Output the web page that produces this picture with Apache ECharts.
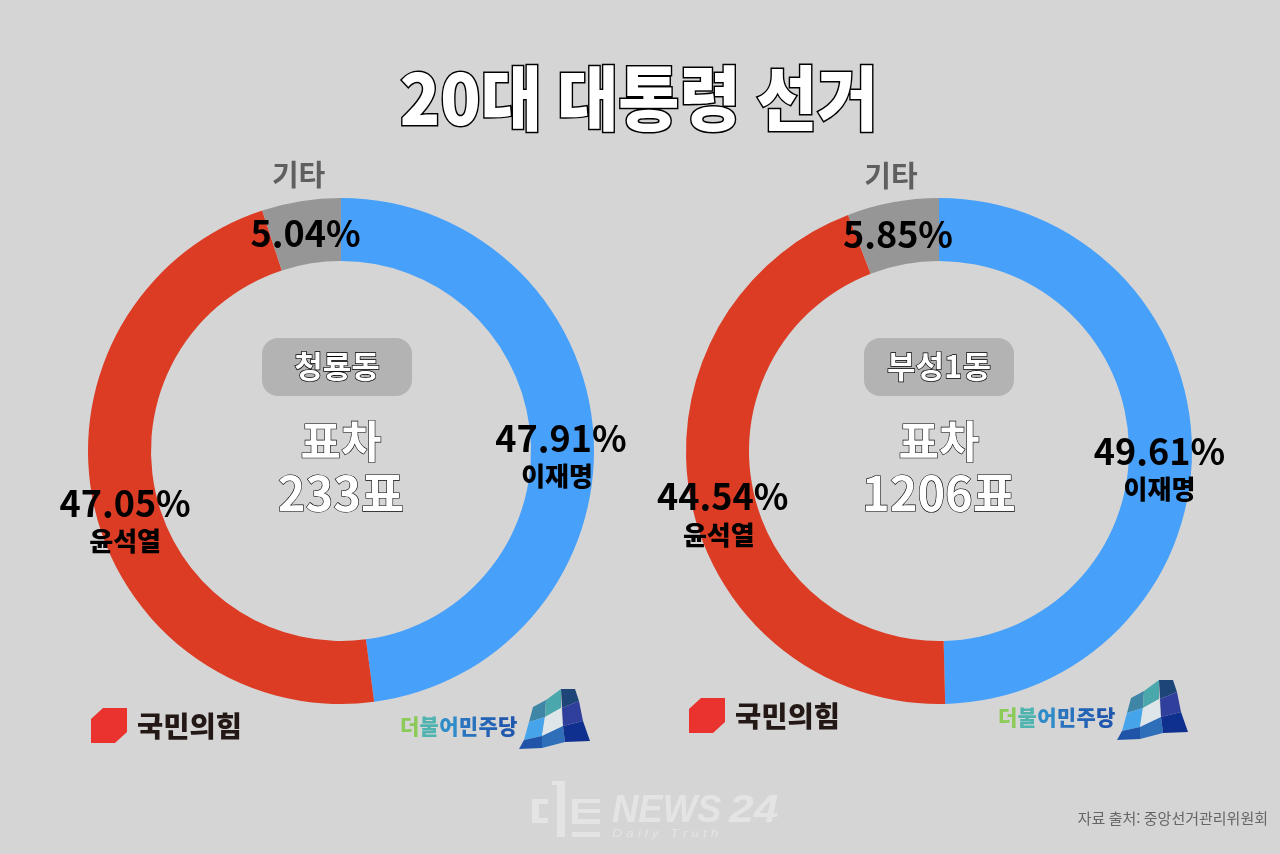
<!DOCTYPE html>
<html lang="ko">
<head>
<meta charset="utf-8">
<title>20대 대통령 선거</title>
<style>
  html, body { margin: 0; padding: 0; background: #d5d5d5; }
  #chart { width: 1280px; height: 854px; }
</style>
<script src="https://cdn.jsdelivr.net/npm/echarts@6/dist/echarts.min.js"></script>
</head>
<body>
<div id="chart"></div>
<script>
// 득표율 데이터
const candidates = ["이재명", "윤석열", "기타"];
const cheongnyong = [47.91, 47.05, 5.04];
const buseong = [49.61, 44.54, 5.85];
const sliceColors = ["#47a0fa", "#dc3b24", "#969696"];
const districts = ["청룡동", "부성1동"];
const voteGaps = ["233표", "1206표"];

const FONT = '"Noto Sans CJK KR"';

// 라벨 위치 보정: 슬라이스별 [x, y], 이름 줄 왼쪽 이동
function buildPie(values, cx, nudges, nameShifts) {
  return {
    type: "pie",
    center: [cx, 451],
    radius: [190, 253],
    startAngle: 90,
    silent: true,
    animation: false,
    avoidLabelOverlap: false,
    labelLine: { show: false },
    data: candidates.map((name, i) => ({
      name,
      value: values[i],
      itemStyle: { color: sliceColors[i] },
      label: {
        show: true,
        position: "inside",
        offset: nudges[i],
        formatter: i === 2
          ? `{other|${name}}\n{pct|${values[i].toFixed(2)}%}`
          : `{pct|${values[i].toFixed(2)}%}\n{name|${name}}`,
        rich: {
          pct: { fontFamily: FONT, fontSize: 36, fontWeight: 700, color: "#000", lineHeight: 40 },
          name: { fontFamily: FONT, fontSize: 26, fontWeight: 900, color: "#000", lineHeight: 36, padding: [0, nameShifts[i], 0, 0] },
          other: { fontFamily: FONT, fontSize: 29, fontWeight: 700, color: "#5f5f5f", lineHeight: 76, padding: [0, 14, 0, 0] },
        },
      },
    })),
  };
}

function outlined(text, x, y, size, weight, lineWidth) {
  return {
    type: "text",
    x, y,
    silent: true,
    style: {
      text,
      fill: "#fff",
      stroke: "#000",
      lineWidth,
      font: `${weight} ${size}px ${FONT}`,
      textAlign: "center",
      textVerticalAlign: "middle",
    },
  };
}

function centerBlock(i, cx, pillCx) {
  return [
    {
      type: "rect",
      silent: true,
      shape: { x: pillCx - 75, y: 338, width: 150, height: 58, r: 16 },
      style: { fill: "#b3b3b3" },
    },
    outlined(districts[i], pillCx, 366, 31, 700, 1.4),
    outlined("표차", cx, 441, 44, 700, 1.2),
    outlined(voteGaps[i], cx, 493, 47, 700, 1.2),
  ];
}

// 국민의힘 로고
function pppLogo(dx, dy) {
  return {
    type: "group",
    x: dx, y: dy,
    silent: true,
    children: [
      {
        type: "polygon",
        shape: { points: [[0, 11], [12, 0], [36, 0], [36, 24], [24, 35], [0, 35]] },
        style: { fill: "#ea322e" },
      },
      {
        type: "text",
        x: 46, y: 18,
        style: {
          text: "국민의힘",
          fill: "#231815",
          font: `900 28.5px ${FONT}`,
          textVerticalAlign: "middle",
        },
      },
    ],
  };
}

// 더불어민주당 로고
const dpChars = [
  ["더", "#8ccb58"], ["불", "#4fb3b0"], ["어", "#2f8cc8"],
  ["민", "#2a74bf"], ["주", "#2464b6"], ["당", "#2058ae"],
];
const dpCells = [
  ["#3f86a6", [[21, 23], [34, 16], [33, 33], [17, 38]]],
  ["#4aa8ac", [[34, 16], [49, 5], [49, 24], [33, 33]]],
  ["#1d4577", [[49, 5], [63, 5], [67, 17], [50, 24]]],
  ["#46a5ea", [[17, 38], [33, 33], [30, 52], [12, 56]]],
  ["#dfe6ea", [[33, 33], [49, 24], [51, 43], [30, 52]]],
  ["#2f3f9b", [[50, 24], [67, 17], [71, 37], [51, 42]]],
  ["#2054a8", [[12, 56], [30, 52], [30, 64], [7, 65]]],
  ["#2f6fba", [[30, 52], [51, 42], [53, 58], [30, 64]]],
  ["#10308f", [[51, 42], [71, 37], [78, 57], [53, 58]]],
];

function dpLogo(dx, dy) {
  return {
    type: "group",
    x: dx, y: dy,
    silent: true,
    children: [
      ...dpChars.map(([ch, fill], i) => ({
        type: "text",
        x: i * 19.6, y: 42,
        style: {
          text: ch,
          fill,
          font: `900 21px ${FONT}`,
          textVerticalAlign: "middle",
        },
      })),
      ...dpCells.map(([fill, points]) => ({
        type: "polygon",
        x: 112, y: 0,
        shape: { points },
        style: { fill },
      })),
    ],
  };
}

// 디트뉴스24 워터마크
function watermark() {
  const fill = "#e4e4e4";
  const bars = [
    [532, 799, 16, 5], [532, 799, 7, 24], [532, 818, 16, 5],
    [557, 781, 8, 56], [552, 781, 6, 4],
    [572, 799, 28, 4], [572, 799, 6, 24], [572, 809, 28, 4], [572, 819, 28, 5],
    [572, 832, 28, 5],
  ];
  const word = (text, x, y, font, scaleX) => ({
    type: "text",
    x, y, scaleX,
    silent: true,
    style: { text, fill, font, textVerticalAlign: "middle" },
  });
  return [
    ...bars.map(([x, y, width, height]) => ({
      type: "rect",
      silent: true,
      shape: { x, y, width, height },
      style: { fill },
    })),
    word("NEWS", 612, 812, 'italic 700 38px "Liberation Sans"', 0.96),
    word("24", 729, 812, 'italic 700 38px "Liberation Sans"', 1.17),
    word("D a i l y   T r u t h", 612, 834, 'italic 400 10px "Liberation Sans"', 1.4),
  ];
}

const chart = echarts.init(document.getElementById("chart"), null, { renderer: "canvas" });

chart.setOption({
  backgroundColor: "#d5d5d5",
  animation: false,
  series: [
    buildPie(cheongnyong, 341, [[-4, 20], [3, 20], [0, -34]], [8, 0, 0]),
    buildPie(buseong, 939, [[-4, 21], [4, 20], [0, -34]], [0, 8, 0]),
  ],
  graphic: [
    { ...outlined("20대 대통령 선거", 639, 98, 70, 900, 3), scaleX: 0.95 },
    ...centerBlock(0, 341, 337),
    ...centerBlock(1, 939, 939),
    pppLogo(91, 708),
    pppLogo(689, 698),
    dpLogo(400, 684),
    dpLogo(998, 675),
    ...watermark(),
    {
      type: "text",
      x: 1268, y: 818,
      silent: true,
      style: {
        text: "자료 출처: 중앙선거관리위원회",
        fill: "#666",
        font: `400 15px ${FONT}`,
        textAlign: "right",
        textVerticalAlign: "middle",
      },
    },
  ],
});
</script>
</body>
</html>
